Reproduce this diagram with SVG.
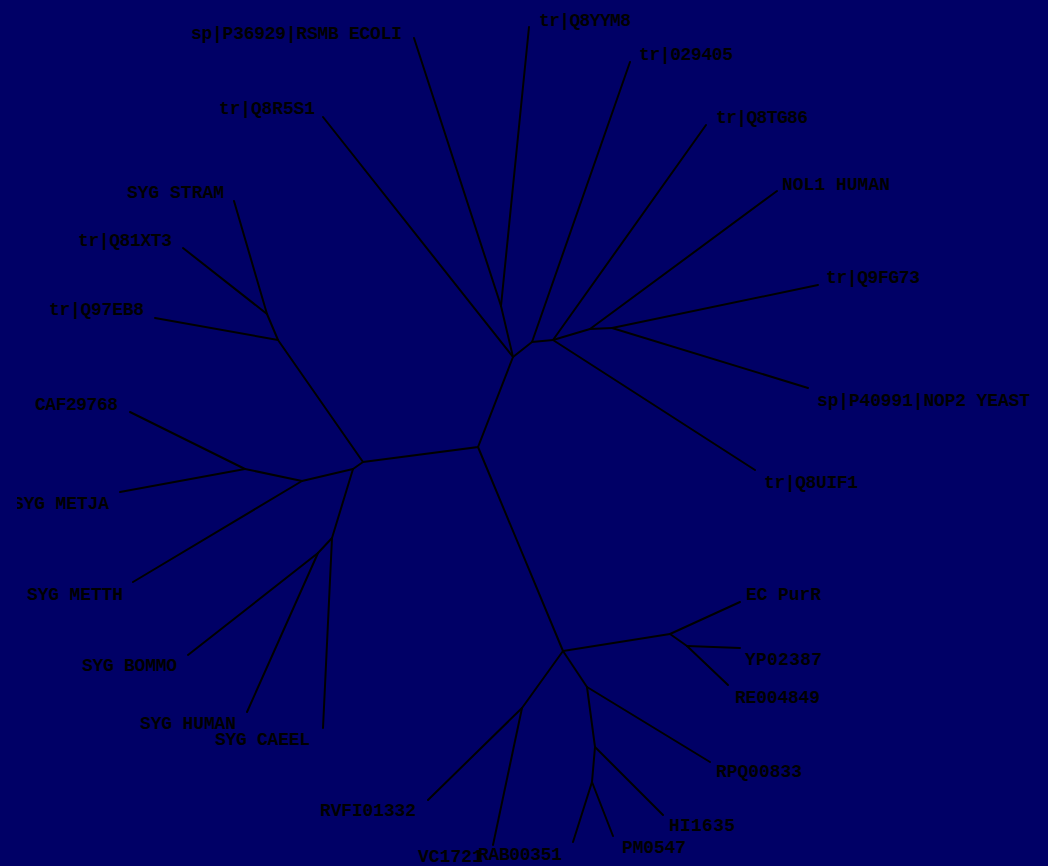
<svg xmlns="http://www.w3.org/2000/svg" width="1048" height="866" viewBox="0 0 1048 866">
<style>
.e{stroke:#000;stroke-width:2;fill:none;stroke-linecap:round}
.t{font-family:"Liberation Mono",monospace;font-weight:bold;font-size:18px;fill:#000}
</style>
<defs><clipPath id="cl"><rect x="17" y="0" width="1031" height="866"/></clipPath></defs>
<rect width="1048" height="866" fill="#000066"/>
<g id="connectors">
<polyline class="e" points="513,357 478,447 363,462"/>
<line class="e" x1="478" y1="447" x2="563" y2="651"/>
<line class="e" x1="513" y1="357" x2="501" y2="306"/>
<line class="e" x1="513" y1="357" x2="323" y2="117"/>
<line class="e" x1="513" y1="357" x2="532" y2="342"/>
<line class="e" x1="501" y1="306" x2="414" y2="38"/>
<line class="e" x1="501" y1="306" x2="529" y2="27"/>
<line class="e" x1="532" y1="342" x2="630" y2="62"/>
<line class="e" x1="532" y1="342" x2="553" y2="340"/>
<line class="e" x1="553" y1="340" x2="706" y2="125"/>
<line class="e" x1="553" y1="340" x2="755" y2="470"/>
<line class="e" x1="553" y1="340" x2="590" y2="329"/>
<line class="e" x1="590" y1="329" x2="777" y2="191"/>
<line class="e" x1="590" y1="329" x2="612" y2="328"/>
<line class="e" x1="612" y1="328" x2="818" y2="285"/>
<line class="e" x1="612" y1="328" x2="808" y2="388"/>
<line class="e" x1="363" y1="462" x2="278" y2="340"/>
<line class="e" x1="363" y1="462" x2="353" y2="469"/>
<line class="e" x1="278" y1="340" x2="267" y2="314"/>
<line class="e" x1="278" y1="340" x2="155" y2="318"/>
<line class="e" x1="267" y1="314" x2="234" y2="201"/>
<line class="e" x1="267" y1="314" x2="183" y2="248"/>
<line class="e" x1="353" y1="469" x2="302" y2="481"/>
<line class="e" x1="353" y1="469" x2="332" y2="538"/>
<line class="e" x1="302" y1="481" x2="245" y2="469"/>
<line class="e" x1="302" y1="481" x2="133" y2="582"/>
<line class="e" x1="245" y1="469" x2="130" y2="412"/>
<line class="e" x1="245" y1="469" x2="120" y2="492"/>
<line class="e" x1="332" y1="538" x2="318" y2="553"/>
<line class="e" x1="332" y1="538" x2="323" y2="728"/>
<line class="e" x1="318" y1="553" x2="188" y2="655"/>
<line class="e" x1="318" y1="553" x2="247" y2="712"/>
<line class="e" x1="563" y1="651" x2="670" y2="634"/>
<line class="e" x1="563" y1="651" x2="522" y2="708"/>
<line class="e" x1="563" y1="651" x2="587" y2="687"/>
<line class="e" x1="670" y1="634" x2="740" y2="602"/>
<line class="e" x1="670" y1="634" x2="687" y2="646"/>
<line class="e" x1="687" y1="646" x2="740" y2="648"/>
<line class="e" x1="687" y1="646" x2="728" y2="685"/>
<line class="e" x1="522" y1="708" x2="428" y2="800"/>
<line class="e" x1="522" y1="708" x2="493" y2="845"/>
<line class="e" x1="587" y1="687" x2="710" y2="762"/>
<line class="e" x1="587" y1="687" x2="595" y2="747"/>
<line class="e" x1="595" y1="747" x2="663" y2="815"/>
<line class="e" x1="595" y1="747" x2="592" y2="782"/>
<line class="e" x1="592" y1="782" x2="573" y2="842"/>
<line class="e" x1="592" y1="782" x2="613" y2="836"/>
</g>
<g id="n_rsmb"><text class="t" x="191" y="39" textLength="211" lengthAdjust="spacing">sp|P36929|RSMB ECOLI</text></g>
<g id="n_q8yym8"><text class="t" x="539" y="26" textLength="92" lengthAdjust="spacing">tr|Q8YYM8</text></g>
<g id="n_029405"><text class="t" x="639" y="60" textLength="94" lengthAdjust="spacing">tr|029405</text></g>
<g id="n_q8r5s1"><text class="t" x="219" y="114" textLength="96" lengthAdjust="spacing">tr|Q8R5S1</text></g>
<g id="n_q8tg86"><text class="t" x="716" y="123" textLength="92" lengthAdjust="spacing">tr|Q8TG86</text></g>
<g id="n_nol1"><text class="t" x="782" y="190" textLength="108" lengthAdjust="spacing">NOL1 HUMAN</text></g>
<g id="n_q9fg73"><text class="t" x="826" y="283" textLength="94" lengthAdjust="spacing">tr|Q9FG73</text></g>
<g id="n_nop2"><text class="t" x="817" y="406" textLength="213" lengthAdjust="spacing">sp|P40991|NOP2 YEAST</text></g>
<g id="n_q8uif1"><text class="t" x="764" y="488" textLength="94" lengthAdjust="spacing">tr|Q8UIF1</text></g>
<g id="n_stram"><text class="t" x="127" y="198" textLength="97" lengthAdjust="spacing">SYG STRAM</text></g>
<g id="n_q81xt3"><text class="t" x="78" y="246" textLength="94" lengthAdjust="spacing">tr|Q81XT3</text></g>
<g id="n_q97eb8"><text class="t" x="49" y="315" textLength="95" lengthAdjust="spacing">tr|Q97EB8</text></g>
<g id="n_caf"><text class="t" x="35" y="410" textLength="83" lengthAdjust="spacing">CAF29768</text></g>
<g id="n_metja" clip-path="url(#cl)"><text class="t" x="13" y="509" textLength="96" lengthAdjust="spacing">SYG METJA</text></g>
<g id="n_metth"><text class="t" x="27" y="600" textLength="96" lengthAdjust="spacing">SYG METTH</text></g>
<g id="n_bommo"><text class="t" x="82" y="671" textLength="95" lengthAdjust="spacing">SYG BOMMO</text></g>
<g id="n_human"><text class="t" x="140" y="729" textLength="96" lengthAdjust="spacing">SYG HUMAN</text></g>
<g id="n_caeel"><text class="t" x="215" y="745" textLength="95" lengthAdjust="spacing">SYG CAEEL</text></g>
<g id="n_purr"><text class="t" x="746" y="600" textLength="75" lengthAdjust="spacing">EC PurR</text></g>
<g id="n_yp02387"><text class="t" x="745" y="665" textLength="77" lengthAdjust="spacing">YP02387</text></g>
<g id="n_re004849"><text class="t" x="735" y="703" textLength="85" lengthAdjust="spacing">RE004849</text></g>
<g id="n_rpq00833"><text class="t" x="716" y="777" textLength="86" lengthAdjust="spacing">RPQ00833</text></g>
<g id="n_hi1635"><text class="t" x="669" y="831" textLength="66" lengthAdjust="spacing">HI1635</text></g>
<g id="n_pm0547"><text class="t" x="622" y="853" textLength="64" lengthAdjust="spacing">PM0547</text></g>
<g id="n_rab00351"><text class="t" x="478" y="860" textLength="84" lengthAdjust="spacing">RAB00351</text></g>
<g id="n_vc1721"><text class="t" x="418" y="862" textLength="65" lengthAdjust="spacing">VC1721</text></g>
<g id="n_rvfi01332"><text class="t" x="320" y="816" textLength="96" lengthAdjust="spacing">RVFI01332</text></g>
</svg>
